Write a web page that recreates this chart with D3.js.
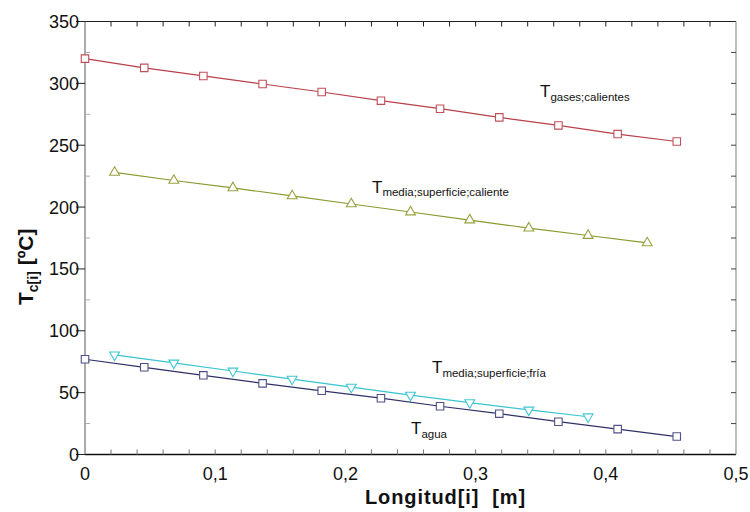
<!DOCTYPE html>
<html><head><meta charset="utf-8">
<script src="https://cdn.jsdelivr.net/npm/d3@7/dist/d3.min.js"></script>
<style>body{margin:0;background:#fff}svg{display:block;font-family:"Liberation Sans",Arial,sans-serif}</style>
</head><body><svg id="c" width="750" height="512"></svg>
<script>
const xNodes = [0, 0.0455, 0.0909, 0.1364, 0.1818, 0.2273, 0.2727, 0.3182, 0.3636, 0.4091, 0.4545];
const xMid = [0.0227, 0.0682, 0.1136, 0.1591, 0.2045, 0.25, 0.2955, 0.3409, 0.3864, 0.4318];
const tGases = [320, 312.5, 306, 299.5, 293, 286, 279.5, 272.5, 266, 259, 253];
const tSupCaliente = [228, 221.5, 215.5, 209, 202.5, 196, 189.5, 183, 177, 171];
const tSupFria = [80.5, 74, 67.5, 61, 54.5, 48, 42, 36, 30.5];
const tAgua = [77, 70.5, 64, 57.5, 51.5, 45.5, 39, 33, 26.5, 20.5, 14.5];
const xTickLabels = ["0", "0,1", "0,2", "0,3", "0,4", "0,5"];
const yTickLabels = ["0", "50", "100", "150", "200", "250", "300", "350"];

const svg = d3.select("#c");
const L = 85, R = 736, T = 21.5, B = 454.5;
const x = d3.scaleLinear().domain([0, 0.5]).range([L, R]);
const y = d3.scaleLinear().domain([0, 350]).range([B, T]);

// frame
svg.append("line").attr("x1", L).attr("x2", R).attr("y1", B).attr("y2", B).attr("stroke", "#111").attr("stroke-width", 1.3);
svg.append("line").attr("x1", L).attr("x2", R).attr("y1", T).attr("y2", T).attr("stroke", "#222").attr("stroke-width", 1.2);
svg.append("line").attr("x1", L).attr("x2", L).attr("y1", T).attr("y2", B).attr("stroke", "#666").attr("stroke-width", 1.1);
svg.append("line").attr("x1", R).attr("x2", R).attr("y1", T).attr("y2", B).attr("stroke", "#888").attr("stroke-width", 1.1);

// x ticks (every 0.02, inside)
const xt = d3.range(0, 26).map(i => i * 0.02);
xt.forEach(v => {
  if (v <= 0 || v >= 0.5) return;
  svg.append("line").attr("x1", x(v)).attr("x2", x(v)).attr("y1", B).attr("y2", B - 5).attr("stroke", "#777");
  svg.append("line").attr("x1", x(v)).attr("x2", x(v)).attr("y1", T).attr("y2", T + 5).attr("stroke", "#222");
});
// x tick labels
xTickLabels.forEach((t, i) => {
  svg.append("text").attr("x", x(i * 0.1)).attr("y", 480).attr("text-anchor", "middle")
    .attr("font-size", 18).attr("fill", "#111").text(t);
});
// y ticks
d3.range(0, 351, 25).forEach(v => {
  const major = v % 50 === 0;
  if (major) {
    svg.append("line").attr("x1", L - 9).attr("x2", L).attr("y1", y(v)).attr("y2", y(v)).attr("stroke", "#222");
  } else {
    svg.append("line").attr("x1", L).attr("x2", L + 5).attr("y1", y(v)).attr("y2", y(v)).attr("stroke", "#aaa");
  }
  if (v > 0 && v < 350) {
    svg.append("line").attr("x1", R - 5).attr("x2", R).attr("y1", y(v)).attr("y2", y(v)).attr("stroke", "#444");
  }
});
yTickLabels.forEach((t, i) => {
  svg.append("text").attr("x", 79).attr("y", y(i * 50) + 6.5).attr("text-anchor", "end")
    .attr("font-size", 18).attr("fill", "#111").text(t);
});

// axis titles
svg.append("text").attr("x", 365).attr("y", 503.5).attr("font-size", 20).attr("font-weight", "bold")
  .attr("letter-spacing", 0.9).attr("fill", "#111").text("Longitud[i]\u00a0\u00a0[m]");
const yl = svg.append("text").attr("transform", "translate(33,305) rotate(-90)").attr("font-size", 21).attr("font-weight", "bold").attr("fill", "#111").style("white-space", "pre");
yl.append("tspan").text("T");
yl.append("tspan").attr("font-size", 14).attr("dy", 5).text("c[i]");
yl.append("tspan").attr("dy", -5).text("\u00a0[ºC]");

// series
const series = [
  {xs: xNodes, ys: tGases, color: "#c0505a", line: "#b84048", marker: "square"},
  {xs: xMid, ys: tSupCaliente, color: "#9aa040", line: "#8a9a30", marker: "up"},
  {xs: xMid, ys: tSupFria, color: "#40c8d4", line: "#38c4d0", marker: "down"},
  {xs: xNodes, ys: tAgua, color: "#50508a", line: "#303068", marker: "square"}
];
const lineGen = d3.line().x(d => x(d[0])).y(d => y(d[1]));
series.forEach(s => {
  const pts = s.xs.slice(0, s.ys.length).map((v, i) => [v, s.ys[i]]);
  svg.append("path").attr("d", lineGen(pts)).attr("fill", "none").attr("stroke", s.line).attr("stroke-width", 1.2);
  const sym = s.marker === "square" ? d3.symbolSquare : d3.symbolTriangle;
  const size = s.marker === "square" ? 56 : 42;
  svg.selectAll(null).data(pts).enter().append("path")
    .attr("d", d3.symbol().type(sym).size(size))
    .attr("transform", d => `translate(${x(d[0])},${y(d[1])})` + (s.marker === "down" ? " rotate(180)" : ""))
    .attr("fill", "#fff").attr("stroke", s.color).attr("stroke-width", 1.1);
});

// labels
function label(px, py, sub) {
  const t = svg.append("text").attr("x", px).attr("y", py).attr("font-size", 17).attr("fill", "#111");
  t.append("tspan").text("T");
  t.append("tspan").attr("font-size", 11.5).attr("dy", 3.5).text(sub);
}
label(540, 97, "gases;calientes");
label(372, 192.5, "media;superficie;caliente");
label(432, 373, "media;superficie;fría");
label(411, 434, "agua");
</script></body></html>
